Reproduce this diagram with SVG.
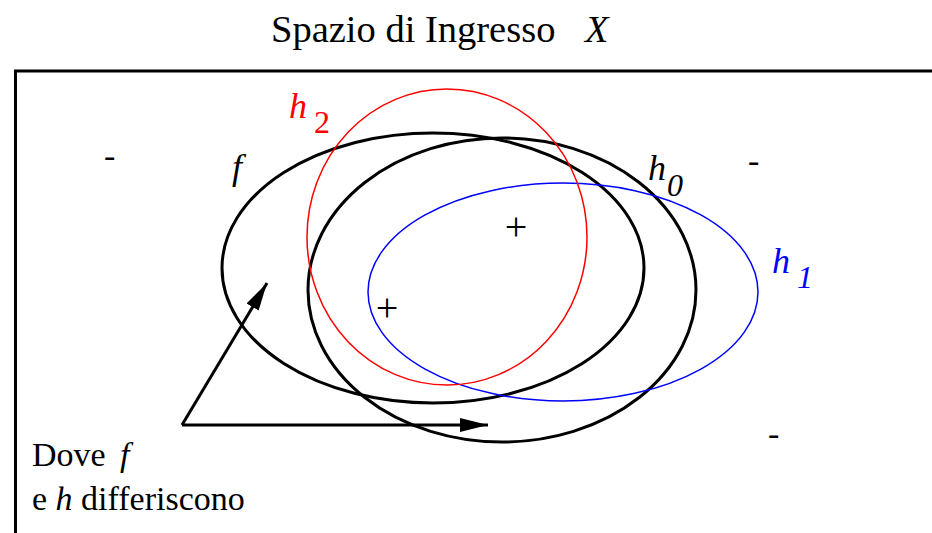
<svg xmlns="http://www.w3.org/2000/svg" width="932" height="533" viewBox="0 0 932 533">
<style>
text{font-family:"Liberation Serif","Times New Roman",serif;fill:#000}
.it{font-style:italic}
.blk{fill:none;stroke:#000;stroke-width:3}
.thin{fill:none;stroke-width:1.5}
.conn{fill:none;stroke:#000;stroke-width:3}
</style>
<defs>
<marker id="ah" viewBox="0 0 28 14" refX="28" refY="7" markerWidth="28" markerHeight="14" markerUnits="userSpaceOnUse" orient="auto">
<path d="M0,0 L28,7 L0,14 Z" fill="#000"/>
</marker>
</defs>
<rect width="932" height="533" fill="#fff"/>
<text x="271" y="42" font-size="38.5">Spazio di Ingresso</text>
<text x="585" y="42" font-size="38.5" class="it">X</text>
<path d="M15.5,600 L15.5,71 L940,71" fill="none" stroke="#000" stroke-width="3"/>
<g id="f">
<ellipse cx="433" cy="268" rx="211" ry="135" class="blk"/>
<text x="232" y="179" font-size="36" class="it">f</text>
</g>
<g id="h0">
<ellipse cx="502" cy="290" rx="194" ry="152" class="blk"/>
<text x="648" y="180" font-size="36" class="it">h</text>
<text x="667" y="196" font-size="32" class="it">0</text>
</g>
<g id="h1">
<ellipse cx="563" cy="292" rx="195" ry="109" class="thin" stroke="#0000ff"/>
<text x="772" y="273" font-size="36" class="it" style="fill:#0000ff">h</text>
<text x="797" y="288" font-size="32" class="it" style="fill:#0000ff">1</text>
</g>
<g id="h2">
<ellipse cx="447" cy="237" rx="140" ry="148" class="thin" stroke="#ff0000"/>
<text x="289" y="118" font-size="36" class="it" style="fill:#ff0000">h</text>
<text x="314" y="133" font-size="32" style="fill:#ff0000">2</text>
</g>
<g id="signs">
<text x="104" y="167" font-size="34">-</text>
<text x="748" y="172" font-size="34">-</text>
<text x="768" y="445" font-size="34">-</text>
<text x="516" y="240" font-size="40" text-anchor="middle">+</text>
<text x="387" y="321" font-size="40" text-anchor="middle">+</text>
</g>
<g id="note">
<text x="32" y="466" font-size="34">Dove</text>
<text x="120" y="466" font-size="34" class="it">f</text>
<text x="32" y="510" font-size="34">e <tspan class="it">h</tspan> differiscono</text>
</g>
<g id="connectors">
<path d="M182,425 L488,425" class="conn" marker-end="url(#ah)"/>
<path d="M182,425 L267,283" class="conn" marker-end="url(#ah)"/>
</g>
</svg>
